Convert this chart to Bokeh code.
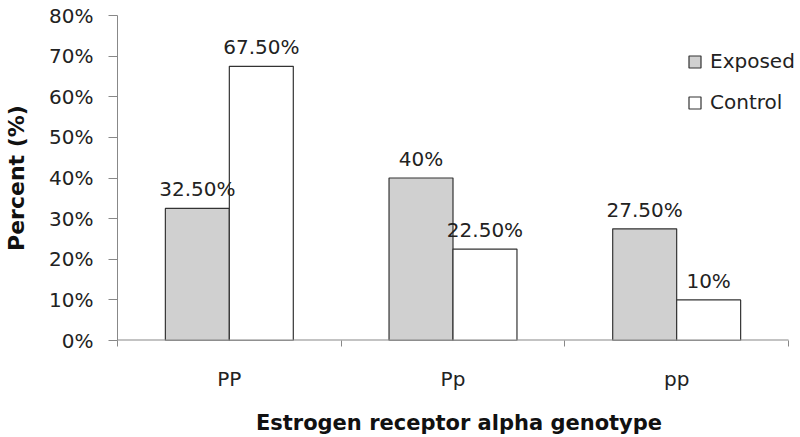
from bokeh.plotting import figure
from bokeh.models import ColumnDataSource, FixedTicker, Legend, LegendItem, Range1d
from bokeh.core.properties import value
from bokeh.embed import file_html
from bokeh.resources import INLINE

categories = ["PP", "Pp", "pp"]
exposed = [32.5, 40.0, 27.5]
control = [67.5, 22.5, 10.0]
y_ticks = [0, 10, 20, 30, 40, 50, 60, 70, 80]

FONT = "DejaVu Sans"

def fmt(v):
    return f"{int(v)}%" if float(v).is_integer() else f"{v:.2f}%"

bw = 0.286
n = len(categories)
idx = list(range(n))
src_e = ColumnDataSource(dict(x=[i + 0.5 - bw / 2 for i in idx], top=exposed,
                              lab=[fmt(v) for v in exposed]))
src_c = ColumnDataSource(dict(x=[i + 0.5 + bw / 2 for i in idx], top=control,
                              lab=[fmt(v) for v in control]))

# frame spans 117..800 px; categories fill 117..788 px
p = figure(width=800, height=437, output_backend="svg", toolbar_location=None,
           x_range=Range1d(0, n * 683 / 671), y_range=Range1d(0, 80),
           min_border_left=117, min_border_right=0, min_border_top=15, min_border_bottom=95)
p.outline_line_color = None
p.grid.visible = False
p.background_fill_color = "white"
p.border_fill_color = "white"

r_e = p.vbar(x="x", top="top", width=bw, source=src_e, fill_color="#d0d0d0",
             line_color="#333333", line_width=1.2)
r_c = p.vbar(x="x", top="top", width=bw, source=src_c, fill_color="white",
             line_color="#333333", line_width=1.2)

# baseline along the categories only
p.segment(x0=[0], y0=[0], x1=[n], y1=[0], line_color="#888888", line_width=2)

for s in (src_e, src_c):
    p.text(x="x", y="top", text="lab", source=s, text_align="center",
           text_baseline="alphabetic", y_offset=-19, text_font=value(FONT),
           text_font_size="20px", text_color="#222222")

# y axis
ya = p.yaxis[0]
ya.ticker = FixedTicker(ticks=y_ticks)
ya.major_label_overrides = {t: f"{t}%" for t in y_ticks}
ya.major_label_text_font = FONT
ya.major_label_text_font_size = "20px"
ya.major_label_text_color = "#222222"
ya.major_tick_out = 9
ya.major_tick_in = 0
ya.minor_tick_out = 0
ya.minor_tick_in = 0
ya.major_label_standoff = 15
ya.axis_line_color = "#888888"
ya.major_tick_line_color = "#888888"
ya.axis_label = "Percent (%)"
ya.axis_label_text_font = FONT
ya.axis_label_text_font_style = "bold"
ya.axis_label_text_font_size = "22px"
ya.axis_label_text_color = "#111111"
ya.axis_label_standoff = 17

# x axis
xa = p.xaxis[0]
xa.ticker = FixedTicker(ticks=[i + 0.5 for i in idx], minor_ticks=list(range(n + 1)))
xa.major_label_overrides = {i + 0.5: c for i, c in zip(idx, categories)}
xa.major_label_text_font = FONT
xa.major_label_text_font_size = "20px"
xa.major_label_text_color = "#222222"
xa.major_tick_out = 0
xa.major_tick_in = 0
xa.minor_tick_out = 6
xa.minor_tick_in = 0
xa.minor_tick_line_color = "#888888"
xa.axis_line_color = None
xa.major_label_standoff = 20
xa.axis_label = "Estrogen receptor alpha genotype"
xa.axis_label_text_font = FONT
xa.axis_label_text_font_style = "bold"
xa.axis_label_text_font_size = "21px"
xa.axis_label_text_color = "#111111"
xa.axis_label_standoff = 17

legend = Legend(items=[LegendItem(label="Exposed", renderers=[r_e]),
                       LegendItem(label="Control", renderers=[r_c])],
                location=(570, 226), border_line_color=None, background_fill_alpha=0,
                padding=0, margin=0, spacing=17, glyph_width=15, glyph_height=15,
                label_height=20, label_standoff=8, label_text_font=FONT,
                label_text_font_size="20px", label_text_color="#222222")
p.add_layout(legend, "center")

open("out.html", "w").write(file_html(p, INLINE))
